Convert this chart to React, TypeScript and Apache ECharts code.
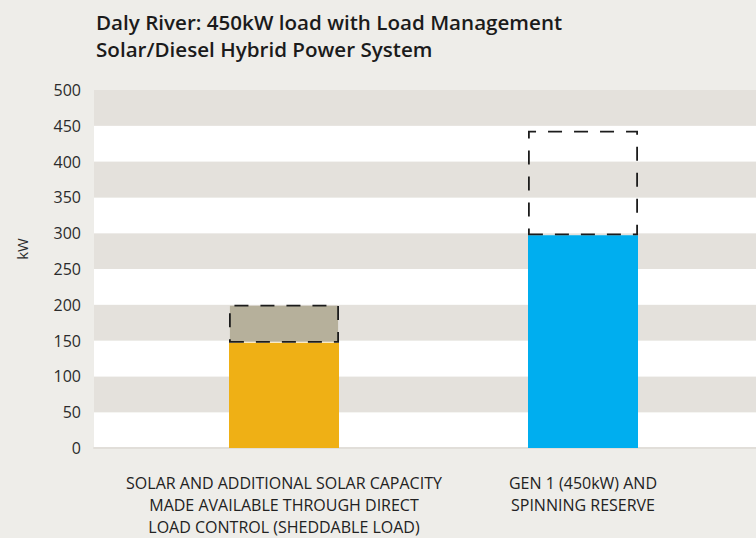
import React, { useEffect, useRef } from "react";
import * as echarts from "echarts";

const titleLines = ["Daly River: 450kW load with Load Management", "Solar/Diesel Hybrid Power System"];
const categories = [
  "SOLAR AND ADDITIONAL SOLAR CAPACITY\nMADE AVAILABLE THROUGH DIRECT\nLOAD CONTROL (SHEDDABLE LOAD)",
  "GEN 1 (450kW) AND\nSPINNING RESERVE",
];
const baseValues = [147, 297];
const topValues = [200, 443];
const baseColors = ["#efb015", "#00aeef"];
const reserveFills = ["#b6b09b", "rgba(0,0,0,0)"];
const yAxisName = "kW";
const yMin = 0;
const yMax = 500;
const yInterval = 50;

export default function App() {
  const ref = useRef<HTMLDivElement>(null);
  useEffect(() => {
    document.body.style.margin = "0";
    const chart = echarts.init(ref.current!, null, { renderer: "svg" });
    const font = "'Open Sans', 'Noto Sans', sans-serif";
    const reserveValues = topValues.map((t, i) => t - baseValues[i]);
    chart.setOption({
      animation: false,
      backgroundColor: "#eeede9",
      textStyle: { fontFamily: font },
      title: {
        text: titleLines.join("\n"),
        left: 96,
        top: 8,
        padding: 0,
        textStyle: { fontFamily: font, fontSize: 20.6, fontWeight: 600, color: "#1b1b1b", lineHeight: 27 },
      },
      graphic: [
        {
          type: "text",
          x: 22,
          y: 249,
          rotation: Math.PI / 2,
          style: { text: yAxisName, fontFamily: font, fontSize: 15, fill: "#2b2b2b", align: "center", verticalAlign: "middle" },
        },
      ],
      grid: [
        { left: 94, right: 0, top: 90, bottom: 90 },
        { left: 134.5, right: 23.5, top: 90, bottom: 90 },
      ],
      xAxis: [
        {
          gridIndex: 0,
          type: "value",
          min: 0,
          max: 1,
          axisLabel: { show: false },
          axisTick: { show: false },
          splitLine: { show: false },
          axisLine: { show: true, lineStyle: { color: "#e1ded9", width: 2 } },
        },
        {
          gridIndex: 1,
          type: "category",
          data: categories,
          axisLine: { show: false },
          axisTick: { show: false },
          axisLabel: {
            interval: 0,
            margin: 24,
            fontFamily: font,
            fontSize: 16,
            lineHeight: 22,
            color: "#222222",
            align: "center",
          },
        },
      ],
      yAxis: [
        {
          gridIndex: 0,
          type: "value",
          min: yMin,
          max: yMax,
          interval: yInterval,
          axisLine: { show: false },
          axisTick: { show: false },
          splitLine: { show: false },
          splitArea: { show: true, areaStyle: { color: ["#ffffff", "#e4e1dc"] } },
          axisLabel: { fontFamily: font, fontSize: 16, color: "#2b2b2b", margin: 13 },
        },
        {
          gridIndex: 1,
          type: "value",
          min: yMin,
          max: yMax,
          interval: yInterval,
          show: false,
          splitLine: { show: false },
        },
      ],
      series: [
        {
          type: "bar",
          xAxisIndex: 1,
          yAxisIndex: 1,
          stack: "s",
          barWidth: 110,
          data: baseValues.map((v, i) => ({ value: v, itemStyle: { color: baseColors[i] } })),
        },
        {
          type: "bar",
          xAxisIndex: 1,
          yAxisIndex: 1,
          stack: "s",
          barWidth: 110,
          data: reserveValues.map((v, i) => ({
            value: v,
            itemStyle: {
              color: reserveFills[i],
              borderColor: "#1c1c1c",
              borderWidth: 1.8,
              borderType: [14, 12],
            },
          })),
        },
      ],
    });
    return () => chart.dispose();
  }, []);
  return <div ref={ref} style={{ width: 756, height: 538, overflow: "hidden" }} />;
}
